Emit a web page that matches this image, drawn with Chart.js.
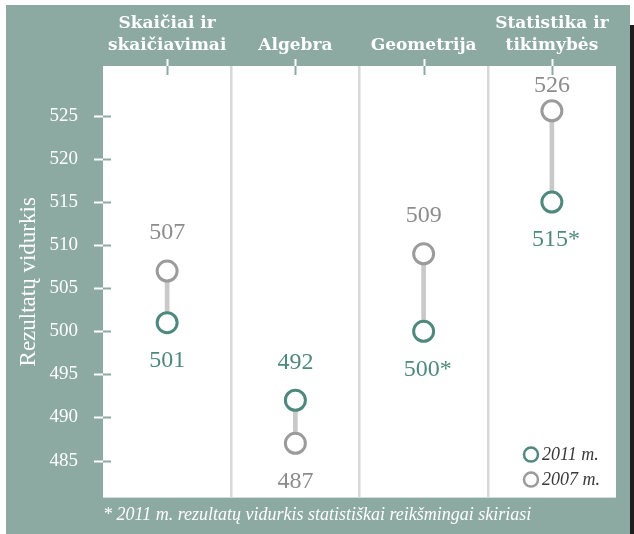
<!DOCTYPE html>
<html>
<head>
<meta charset="utf-8">
<script src="https://cdn.jsdelivr.net/npm/chart.js@4.4.0/dist/chart.umd.min.js"></script>
<style>
  html, body { margin: 0; padding: 0; background: #fff; }
  .wrap { position: relative; width: 634px; height: 534px; }
  .panel { position: absolute; left: 6px; top: 5px; width: 624px; height: 529px; background: #8daaa2; }
  .shadow { position: absolute; left: 630px; top: 25px; width: 4px; height: 509px; background: #1e1e1e; }
  canvas { position: absolute; left: 0; top: 0; }
</style>
</head>
<body>
<div class="wrap">
  <div class="panel"></div>
  <div class="shadow"></div>
  <canvas id="chart" width="634" height="534"></canvas>
</div>
<script>
// data
const categories = [["Skaičiai ir", "skaičiavimai"], "Algebra", "Geometrija", ["Statistika ir", "tikimybės"]];
const scores2011 = [501, 492, 500, 515];
const scores2007 = [507, 487, 509, 525.6];
const significant2011 = [false, false, true, true]; // marked with *
const yTicks = [485, 490, 495, 500, 505, 510, 515, 520, 525];
const yMin = 480.7;
const yMax = 530.8;

const TEAL = "#4f897d";
const GRAY = "#9b9b9b";
const GRAY_TEXT = "#8c8c8c";
const TICK_IN = "#8daaa2";

Chart.defaults.font.family = "'Liberation Serif', serif";

// white plot background
const plotBg = {
  id: "plotBg",
  beforeDraw(chart) {
    const { ctx, chartArea: a } = chart;
    ctx.save();
    ctx.fillStyle = "#fff";
    ctx.fillRect(a.left, a.top, a.right - a.left, a.bottom - a.top);
    ctx.restore();
  }
};

// little tick marks, white outside the plot and teal inside
const tickMarks = {
  id: "tickMarks",
  afterDatasetsDraw(chart) {
    const { ctx, chartArea: a, scales } = chart;
    ctx.save();
    ctx.lineWidth = 2;
    yTicks.forEach(v => {
      const y = Math.round(scales.y.getPixelForValue(v)) + 0.5;
      ctx.strokeStyle = "#fff";
      ctx.beginPath(); ctx.moveTo(a.left - 9, y); ctx.lineTo(a.left, y); ctx.stroke();
      ctx.strokeStyle = TICK_IN;
      ctx.beginPath(); ctx.moveTo(a.left, y); ctx.lineTo(a.left + 8, y); ctx.stroke();
    });
    categories.forEach((c, i) => {
      const x = Math.round(scales.x.getPixelForValue(i)) + 0.5;
      ctx.strokeStyle = "#fff";
      ctx.beginPath(); ctx.moveTo(x, a.top - 7); ctx.lineTo(x, a.top); ctx.stroke();
      ctx.strokeStyle = TICK_IN;
      ctx.beginPath(); ctx.moveTo(x, a.top); ctx.lineTo(x, a.top + 9); ctx.stroke();
    });
    ctx.restore();
  }
};

// value labels: higher value above its point, lower value below
const valueLabels = {
  id: "valueLabels",
  afterDatasetsDraw(chart) {
    const { ctx, chartArea: a } = chart;
    const m07 = chart.getDatasetMeta(1).data;
    const m11 = chart.getDatasetMeta(2).data;
    ctx.save();
    ctx.font = "24px 'Liberation Serif', serif";
    ctx.textAlign = "center";
    ctx.textBaseline = "middle";
    categories.forEach((c, i) => {
      const up11 = scores2011[i] > scores2007[i];
      const p07 = m07[i], p11 = m11[i];
      ctx.fillStyle = GRAY_TEXT;
      let y07 = p07.y + (up11 ? 38 : -38);
      y07 = Math.max(y07, a.top + 20);
      ctx.fillText(String(Math.round(scores2007[i])), p07.x, y07);
      ctx.fillStyle = TEAL;
      const t = Math.round(scores2011[i]) + (significant2011[i] ? "*" : "");
      ctx.fillText(t, p11.x + (significant2011[i] ? 4 : 0), p11.y + (up11 ? -38 : 38));
    });
    ctx.restore();
  }
};

// legend in the lower right corner and footnote under the plot
const legendNote = {
  id: "legendNote",
  afterDraw(chart) {
    const { ctx, chartArea: a } = chart;
    const items = [
      { text: "2011 m.", color: TEAL, y: a.bottom - 43 },
      { text: "2007 m.", color: GRAY, y: a.bottom - 18 }
    ];
    const cx = a.right - 85;
    ctx.save();
    ctx.textBaseline = "middle";
    ctx.textAlign = "left";
    items.forEach(it => {
      ctx.beginPath();
      ctx.arc(cx, it.y, 7, 0, Math.PI * 2);
      ctx.fillStyle = "#fff";
      ctx.fill();
      ctx.lineWidth = 2.5;
      ctx.strokeStyle = it.color;
      ctx.stroke();
      ctx.fillStyle = "#3a3a3a";
      ctx.font = "italic 18px 'Liberation Serif', serif";
      ctx.fillText(it.text, cx + 11, it.y + 1);
    });
    ctx.fillStyle = "#fff";
    ctx.font = "italic 18px 'Liberation Serif', serif";
    ctx.fillText("* 2011 m. rezultatų vidurkis statistiškai reikšmingai skiriasi", a.left, a.bottom + 18);
    ctx.restore();
  }
};

new Chart(document.getElementById("chart"), {
  type: "bar",
  data: {
    labels: categories,
    datasets: [
      {
        label: "range",
        data: scores2011.map((v, i) => [Math.min(v, scores2007[i]), Math.max(v, scores2007[i])]),
        backgroundColor: "#c9c9c9",
        barThickness: 4,
        order: 3
      },
      {
        type: "line",
        label: "2007 m.",
        data: scores2007,
        showLine: false,
        pointRadius: 10,
        pointBorderWidth: 3,
        pointBorderColor: GRAY,
        pointBackgroundColor: "#fff",
        order: 2
      },
      {
        type: "line",
        label: "2011 m.",
        data: scores2011,
        showLine: false,
        pointRadius: 10,
        pointBorderWidth: 3,
        pointBorderColor: TEAL,
        pointBackgroundColor: "#fff",
        order: 1
      }
    ]
  },
  options: {
    responsive: false,
    animation: false,
    layout: { padding: { left: 0, top: 0, right: 18, bottom: 31 } },
    plugins: {
      legend: { display: false },
      tooltip: { enabled: false }
    },
    scales: {
      x: {
        position: "top",
        offset: true,
        border: { display: false },
        grid: {
          offset: true,
          drawTicks: false,
          lineWidth: 2.5,
          color: ctx => (ctx.type === "tick" && ctx.index > 0) ? "#d8d8d8" : "rgba(0,0,0,0)"
        },
        ticks: {
          color: "#fff",
          padding: 9,
          maxRotation: 0,
          autoSkip: false,
          font: { family: "'DejaVu Serif', serif", size: 17, weight: "bold", lineHeight: "22px" }
        },
        afterFit(scale) { scale.height = 66; }
      },
      y: {
        min: yMin,
        max: yMax,
        border: { display: false },
        grid: { display: false, drawTicks: false },
        afterBuildTicks(scale) { scale.ticks = yTicks.map(v => ({ value: v })); },
        ticks: {
          color: "#fff",
          padding: 25,
          font: { size: 19 }
        },
        title: {
          display: true,
          text: "Rezultatų vidurkis",
          color: "#fff",
          font: { size: 23 },
          padding: { top: 15, bottom: 0 }
        },
        afterFit(scale) { scale.width = 103; }
      }
    }
  },
  plugins: [plotBg, tickMarks, valueLabels, legendNote]
});
</script>
</body>
</html>
